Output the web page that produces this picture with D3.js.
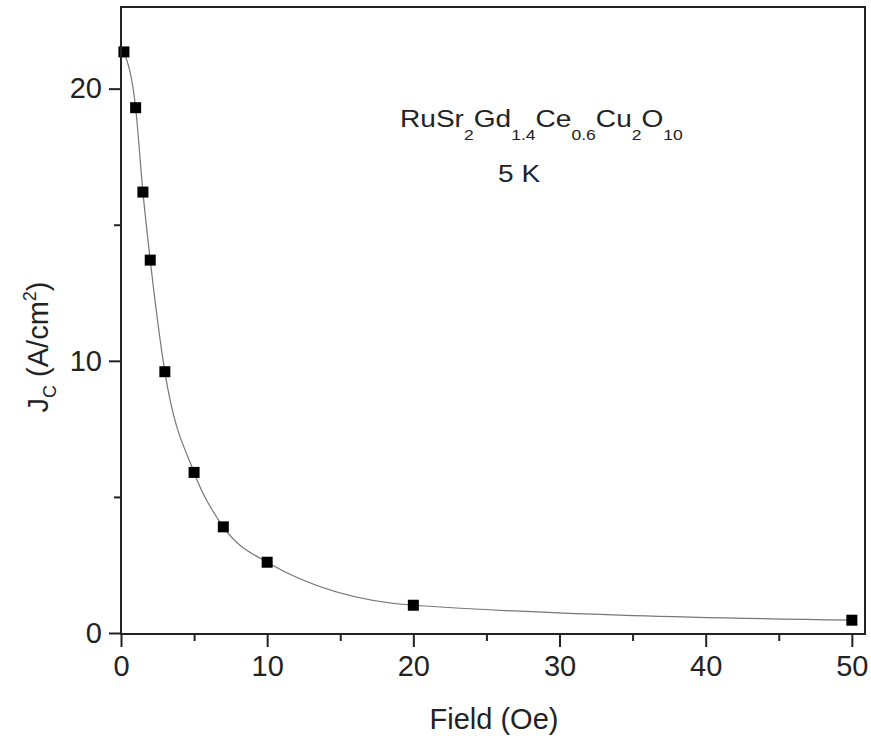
<!DOCTYPE html>
<html>
<head>
<meta charset="utf-8">
<script src="https://cdn.jsdelivr.net/npm/d3@7"></script>
<style>
  body { margin: 0; background: #fff; }
  svg { font-family: "Liberation Sans", Arial, sans-serif; }
</style>
</head>
<body>
<svg id="chart" width="871" height="742"></svg>
<script>
// data
var field = [0.2, 1, 1.5, 2, 3, 5, 7, 10, 20, 50];
var jc = [21.35, 19.3, 16.2, 13.7, 9.6, 5.9, 3.9, 2.6, 1.02, 0.47];
var xTicks = [0, 10, 20, 30, 40, 50];
var yTicks = [0, 10, 20];

var width = 871, height = 742;
var margin = { left: 121, right: 6, top: 7, bottom: 108 };
var font = '"Liberation Sans", Arial, sans-serif';

var svg = d3.select('#chart');

var x = d3.scaleLinear()
  .domain([0, 50.9])
  .range([margin.left, width - margin.right]);

var y = d3.scaleLinear()
  .domain([0, 23])
  .range([633, margin.top]);

var points = field.map((f, i) => ({ f: f, j: jc[i] }));

// connecting curve
var line = d3.line()
  .x(d => x(d.f))
  .y(d => y(d.j))
  .curve(d3.curveMonotoneX);

svg.append('path')
  .datum(points)
  .attr('d', line)
  .attr('fill', 'none')
  .attr('stroke', '#777')
  .attr('stroke-width', 1.2);

// markers
svg.selectAll('.pt')
  .data(points)
  .join('rect')
  .attr('class', 'pt')
  .attr('x', d => x(d.f) - 5.5)
  .attr('y', d => y(d.j) - 5.5)
  .attr('width', 11)
  .attr('height', 11)
  .attr('fill', '#000');

// frame
svg.append('rect')
  .attr('x', margin.left)
  .attr('y', margin.top)
  .attr('width', width - margin.right - margin.left)
  .attr('height', 634 - margin.top)
  .attr('fill', 'none')
  .attr('stroke', '#222')
  .attr('stroke-width', 2);

// bottom axis
var xAxis = d3.axisBottom(x)
  .tickValues(xTicks)
  .tickSize(13)
  .tickPadding(8)
  .tickFormat(d3.format('d'));

var gx = svg.append('g')
  .attr('transform', 'translate(0,634)')
  .call(xAxis);

gx.select('.domain').remove();
gx.selectAll('line').attr('stroke', '#222').attr('stroke-width', 2);
gx.selectAll('text').attr('font-size', 29).attr('fill', '#222').attr('font-family', font);

var gxMinor = svg.append('g')
  .attr('transform', 'translate(0,634)')
  .call(d3.axisBottom(x).tickValues([5, 15, 25, 35, 45]).tickSize(7).tickFormat(''));
gxMinor.select('.domain').remove();
gxMinor.selectAll('line').attr('stroke', '#222').attr('stroke-width', 2);

// left axis
var yAxis = d3.axisLeft(y)
  .tickValues(yTicks)
  .tickSize(12)
  .tickPadding(7)
  .tickFormat(d3.format('d'));

var gy = svg.append('g')
  .attr('transform', 'translate(' + margin.left + ',0)')
  .call(yAxis);

gy.select('.domain').remove();
gy.selectAll('line').attr('stroke', '#222').attr('stroke-width', 2);
gy.selectAll('text').attr('font-size', 29).attr('fill', '#222').attr('font-family', font);

var gyMinor = svg.append('g')
  .attr('transform', 'translate(' + margin.left + ',0)')
  .call(d3.axisLeft(y).tickValues([5, 15]).tickSize(7).tickFormat(''));
gyMinor.select('.domain').remove();
gyMinor.selectAll('line').attr('stroke', '#222').attr('stroke-width', 2);

// axis titles
svg.append('text')
  .attr('x', 494)
  .attr('y', 729)
  .attr('text-anchor', 'middle')
  .attr('font-size', 29)
  .attr('fill', '#222')
  .text('Field (Oe)');

var yt = svg.append('text')
  .attr('transform', 'translate(48,347) rotate(-90)')
  .attr('text-anchor', 'middle')
  .attr('font-size', 29)
  .attr('fill', '#222');
yt.append('tspan').text('J');
yt.append('tspan').attr('font-size', 18).attr('dy', 8).text('C');
yt.append('tspan').attr('dy', -8).text(' (A/cm');
yt.append('tspan').attr('font-size', 18).attr('dy', -12).text('2');
yt.append('tspan').attr('dy', 12).text(')');

// annotation
var formula = [
  ['RuSr', '2'], ['Gd', '1.4'], ['Ce', '0.6'], ['Cu', '2'], ['O', '10']
];
var ann = svg.append('text')
  .attr('transform', 'translate(400,127) scale(1.17,1)')
  .attr('font-size', 24)
  .attr('fill', '#222');
formula.forEach((p, i) => {
  ann.append('tspan').attr('dy', i === 0 ? 0 : -13).text(p[0]);
  ann.append('tspan').attr('font-size', 15).attr('dy', 13).text(p[1]);
});

svg.append('text')
  .attr('transform', 'translate(498,182) scale(1.17,1)')
  .attr('font-size', 24)
  .attr('fill', '#222')
  .text('5 K');
</script>
</body>
</html>
